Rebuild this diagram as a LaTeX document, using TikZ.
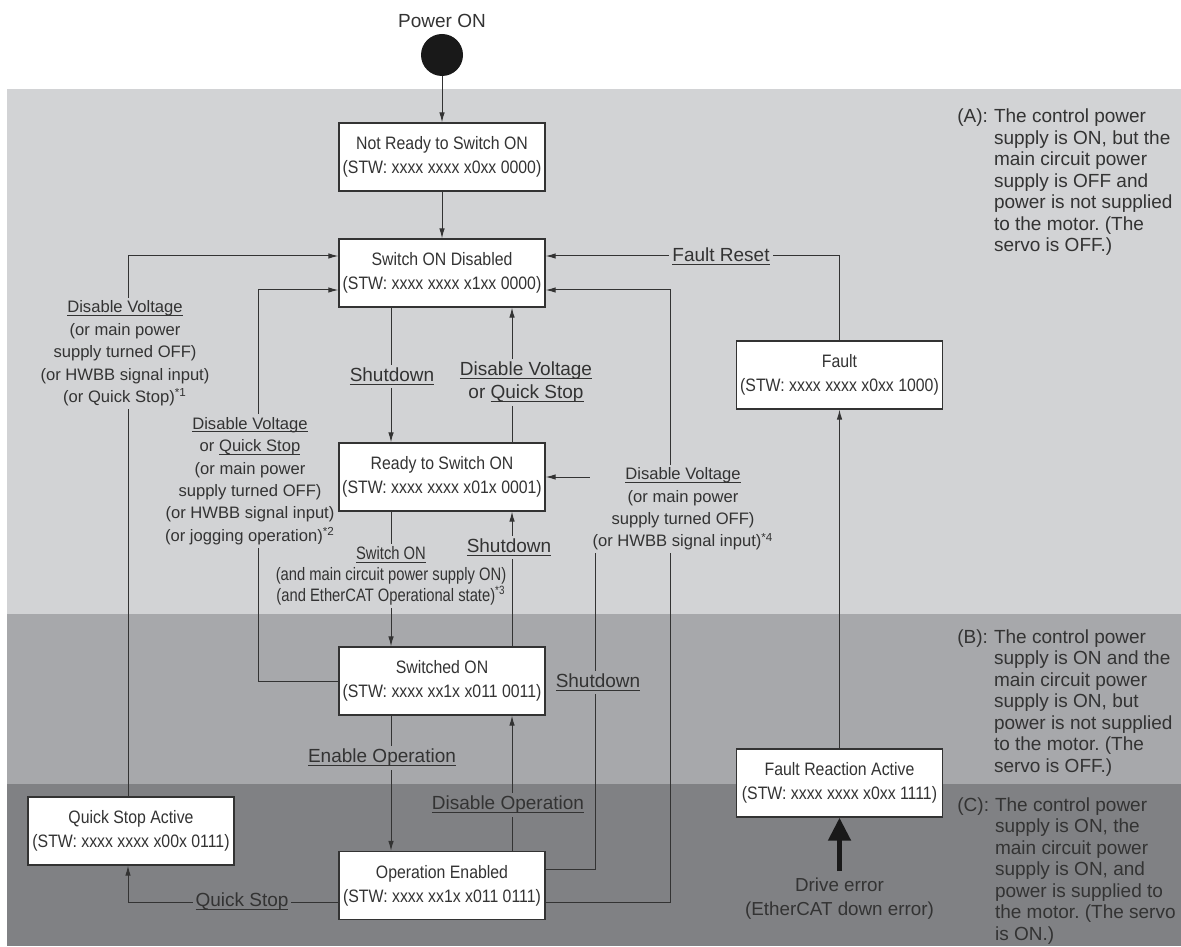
\documentclass[tikz,border=0pt]{standalone}
\usepackage{fontspec}
\setmainfont{Liberation Sans}
\newfontfamily\boxfont[FakeStretch=0.88]{Liberation Sans}
\newfontfamily\narrowfont[FakeStretch=0.82]{Liberation Sans}
\usetikzlibrary{arrows.meta}
\definecolor{bandA}{HTML}{D2D3D5}
\definecolor{bandB}{HTML}{A7A8AB}
\definecolor{bandC}{HTML}{808184}
\definecolor{ink}{HTML}{333333}
\newcommand{\ulab}[1]{\begingroup\setbox0=\hbox{#1}\rlap{\rule[-0.17em]{\wd0}{0.045em}}\box0\endgroup}
\newcommand{\fnmark}[1]{\textsuperscript{#1}}
\frenchspacing

\begin{document}
\begin{tikzpicture}[x=0.5pt,y=-0.5pt,
  state/.style={draw=ink,line width=0.7pt,fill=white,minimum width=103pt,minimum height=34pt,
    inner xsep=1pt,align=center,text=ink,font=\boxfont\fontsize{9}{12}\selectfont},
  arr/.style={draw=ink,line width=0.5pt,-{Latex[length=5pt,width=2.8pt]}},
  lab/.style={inner sep=1.5pt,align=center,text=ink,fill=bandA,font=\fontsize{9.5}{11.5}\selectfont},
  small/.style={lab,font=\fontsize{8.3}{11.2}\selectfont},
  note/.style={anchor=base west,inner sep=0pt,text=ink,font=\fontsize{9.5}{10.75}\selectfont}]
  \useasboundingbox (0,0) rectangle (1181,946);
  \fill[bandA] (6.5,89) rectangle (1181,614);
  \fill[bandB] (6.5,614) rectangle (1181,784);
  \fill[bandC] (6.5,784) rectangle (1181,946);

  \node[text=ink,font=\fontsize{9.5}{11.5}\selectfont] (pwrtext) at (442,21) {Power ON};
  \node[circle,fill=black!90,minimum size=21pt,inner sep=0pt] (power) at (442,55) {};
  \node[state] (notready) at (442,157) {Not Ready to Switch ON\\(STW: xxxx xxxx x0xx 0000)};
  \node[state] (sod) at (442,273) {Switch ON Disabled\\(STW: xxxx xxxx x1xx 0000)};
  \node[state] (ready) at (442,477) {Ready to Switch ON\\(STW: xxxx xxxx x01x 0001)};
  \node[state] (swon) at (442,681) {Switched ON\\(STW: xxxx xx1x x011 0011)};
  \node[state] (opena) at (442,885.5) {Operation Enabled\\(STW: xxxx xx1x x011 0111)};
  \node[state] (qsa) at (131,831) {Quick Stop Active\\(STW: xxxx xxxx x00x 0111)};
  \node[state] (fault) at (839.5,375) {Fault\\(STW: xxxx xxxx x0xx 1000)};
  \node[state] (fra) at (839.5,783) {Fault Reaction Active\\(STW: xxxx xxxx x0xx 1111)};
  \node[text=ink,align=center,font=\fontsize{9.4}{12}\selectfont] (drv) at (839.5,899) {Drive error\\(EtherCAT down error)};

  \coordinate (busL1) at (128,0);
  \coordinate (busL2) at (258,0);
  \coordinate (cl) at (391,0);
  \coordinate (cr) at (512,0);
  \coordinate (busA) at (595,0);
  \coordinate (busB) at (670,0);
  \coordinate (sodL1) at ([yshift=8.5pt]sod.west);
  \coordinate (sodL2) at ([yshift=-8.5pt]sod.west);
  \coordinate (sodR1) at ([yshift=8.5pt]sod.east);
  \coordinate (sodR2) at ([yshift=-8.5pt]sod.east);
  \coordinate (opL) at ([yshift=-8.25pt]opena.west);
  \coordinate (opR1) at ([yshift=8.25pt]opena.east);
  \coordinate (opR2) at ([yshift=-8.25pt]opena.east);

  \draw[arr] (power) -- (notready);
  \draw[arr] (notready) -- (sod);
  \draw[arr] (sod.south -| cl) -- (ready.north -| cl);
  \draw[arr] (ready.north -| cr) -- (sod.south -| cr);
  \draw[arr] (ready.south -| cl) -- (swon.north -| cl);
  \draw[arr] (swon.north -| cr) -- (ready.south -| cr);
  \draw[arr] (swon.south -| cl) -- (opena.north -| cl);
  \draw[arr] (opena.north -| cr) -- (swon.south -| cr);
  \draw[arr] (opR1) -| (busA |- ready.east) -- (ready.east);
  \draw[arr] (opR2) -| (busB |- sodR2) -- (sodR2);
  \draw[arr] (opL) -| (busL1 |- qsa.south);
  \draw[arr] (busL1 |- qsa.north) |- (sodL1);
  \draw[arr] (swon.west) -| (busL2 |- sodL2) -- (sodL2);
  \draw[arr] (fault.north) |- (sodR1);
  \draw[arr] (fra.north) -- (fault.south);
  \draw[black!90,line width=2.5pt,-{Triangle[length=11.5pt,width=11pt]}] (drv.north) -- (fra.south);

  \node[small] (dv1) at (125,353.5) {\ulab{Disable Voltage}\\(or main power\\supply turned OFF)\\(or HWBB signal input)\\(or Quick Stop)\fnmark{*1}};
  \node[small] (dv2) at (250,481) {\ulab{Disable Voltage}\\or \ulab{Quick Stop}\\(or main power\\supply turned OFF)\\(or HWBB signal input)\\(or jogging operation)\fnmark{*2}};
  \node[lab] (sd1) at (392,376) {\ulab{Shutdown}};
  \node[lab] (dvqs) at (526,382.5) {\ulab{Disable Voltage}\\or \ulab{Quick Stop}};
  \node[lab,font=\narrowfont\fontsize{9}{10.5}\selectfont] (son) at (391,576) {\ulab{Switch ON}\\(and main circuit power supply ON)\\(and EtherCAT Operational state)\fnmark{*3}};
  \node[lab] (sd2) at (509,547) {\ulab{Shutdown}};
  \node[small] (dv4) at (683,509) {\ulab{Disable Voltage}\\(or main power\\supply turned OFF)\\(or HWBB signal input)\fnmark{*4}};
  \node[lab,fill=bandB] (sd3) at (598,682) {\ulab{Shutdown}};
  \node[lab,fill=bandB] (eop) at (382,758) {\ulab{Enable Operation}};
  \node[lab,fill=bandC] (dop) at (508,805) {\ulab{Disable Operation}};
  \node[lab,fill=bandC] (qs) at (242,902) {\ulab{Quick Stop}};
  \node[lab] (frst) at (721,256) {\ulab{Fault Reset}};

  \node[note] (noteA) at (957,123) {\begin{tabular}[t]{@{}l@{\hspace{3pt}}l@{}}(A): & The control power\\ & supply is ON, but the\\ & main circuit power\\ & supply is OFF and\\ & power is not supplied\\ & to the motor. (The\\ & servo is OFF.)\end{tabular}};
  \node[note] (noteB) at (957,643) {\begin{tabular}[t]{@{}l@{\hspace{3pt}}l@{}}(B): & The control power\\ & supply is ON and the\\ & main circuit power\\ & supply is ON, but\\ & power is not supplied\\ & to the motor. (The\\ & servo is OFF.)\end{tabular}};
  \node[note] (noteC) at (957,811) {\begin{tabular}[t]{@{}l@{\hspace{3pt}}l@{}}(C): & The control power\\ & supply is ON, the\\ & main circuit power\\ & supply is ON, and\\ & power is supplied to\\ & the motor. (The servo\\ & is ON.)\end{tabular}};
\end{tikzpicture}
\end{document}
